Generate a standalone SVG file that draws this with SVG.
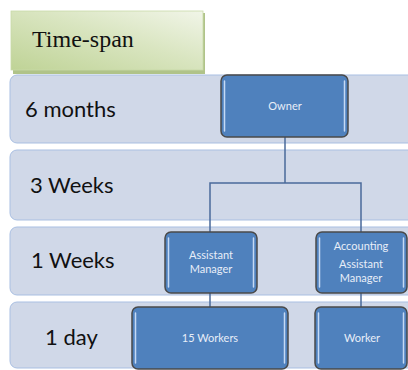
<svg xmlns="http://www.w3.org/2000/svg" width="408" height="370" viewBox="0 0 408 370">
  <defs>
    <linearGradient id="greenFill" x1="0" y1="1" x2="1" y2="0">
      <stop offset="0" stop-color="#bfd396"/>
      <stop offset="0.55" stop-color="#d9e5c0"/>
      <stop offset="1" stop-color="#f1f5e8"/>
    </linearGradient>
  </defs>
  <style>
    .band { fill: #d0d8e8; stroke: #a9bfe2; stroke-width: 1; }
    .band-label { font-family: Lato, "Open Sans", "Liberation Sans", sans-serif; font-size: 22px; fill: #111111; }
    .node rect.body { fill: #4f81bd; stroke: #4a4a4a; stroke-width: 1.5; }
    .node line.hl { stroke: #c5daf5; stroke-width: 1.5; stroke-linecap: round; }
    .node text { font-family: Lato, "Open Sans", "Liberation Sans", sans-serif; font-size: 11px; fill: #e8eef8; text-anchor: middle; }
    .conn { fill: none; stroke: #4a6a9a; stroke-width: 1.5; }
  </style>

  <rect width="408" height="370" fill="#ffffff"/>

  <!-- time bands -->
  <g id="band-6months">
    <rect class="band" x="10" y="75" width="410" height="68" rx="7"/>
    <text class="band-label" x="25" y="117">6 months</text>
  </g>
  <g id="band-3weeks">
    <rect class="band" x="10" y="150" width="410" height="70" rx="7"/>
    <text class="band-label" x="30" y="193">3 Weeks</text>
  </g>
  <g id="band-1weeks">
    <rect class="band" x="10" y="227" width="410" height="68" rx="7"/>
    <text class="band-label" x="31" y="268">1 Weeks</text>
  </g>
  <g id="band-1day">
    <rect class="band" x="10" y="302" width="410" height="66" rx="7"/>
    <text class="band-label" x="45" y="345">1 day</text>
  </g>

  <!-- heading tab -->
  <g id="timespan">
    <rect x="13" y="13" width="192" height="61" fill="#9cb46c" opacity="0.8"/>
    <rect x="11" y="11" width="192" height="59" fill="url(#greenFill)" stroke="#c9d9a8" stroke-width="0.8"/>
    <text x="32" y="47" font-family="'Liberation Serif', 'Times New Roman', serif" font-size="24" fill="#111111">Time-span</text>
  </g>

  <!-- connectors -->
  <g id="connectors">
    <polyline class="conn" points="285,137 285,183"/>
    <polyline class="conn" points="210,232 210,183 361,183 361,232"/>
    <line class="conn" x1="210" y1="293" x2="210" y2="307"/>
    <line class="conn" x1="361" y1="293" x2="361" y2="307"/>
  </g>

  <!-- org nodes -->
  <g id="owner" class="node">
    <rect class="body" x="221" y="75" width="127" height="62" rx="6"/>
    <line class="hl" x1="224.5" y1="81" x2="224.5" y2="131"/>
    <line class="hl" x1="344.5" y1="81" x2="344.5" y2="131"/>
    <text x="285" y="110">Owner</text>
  </g>
  <g id="assistant-manager" class="node">
    <rect class="body" x="165" y="232" width="92" height="61" rx="6"/>
    <line class="hl" x1="168.5" y1="238" x2="168.5" y2="287"/>
    <line class="hl" x1="253.5" y1="238" x2="253.5" y2="287"/>
    <text x="211" y="259">Assistant</text>
    <text x="211" y="273">Manager</text>
  </g>
  <g id="accounting-assistant-manager" class="node">
    <rect class="body" x="316" y="232" width="91" height="61" rx="6"/>
    <line class="hl" x1="319.5" y1="238" x2="319.5" y2="287"/>
    <line class="hl" x1="403.5" y1="238" x2="403.5" y2="287"/>
    <text x="361" y="250">Accounting</text>
    <text x="361" y="268">Assistant</text>
    <text x="361" y="282">Manager</text>
  </g>
  <g id="fifteen-workers" class="node">
    <rect class="body" x="132" y="307" width="156" height="62" rx="6"/>
    <line class="hl" x1="135.5" y1="313" x2="135.5" y2="363"/>
    <line class="hl" x1="284.5" y1="313" x2="284.5" y2="363"/>
    <text x="210" y="342">15 Workers</text>
  </g>
  <g id="worker" class="node">
    <rect class="body" x="315" y="307" width="92" height="62" rx="6"/>
    <line class="hl" x1="318.5" y1="313" x2="318.5" y2="363"/>
    <line class="hl" x1="403.5" y1="313" x2="403.5" y2="363"/>
    <text x="362" y="342">Worker</text>
  </g>
</svg>
